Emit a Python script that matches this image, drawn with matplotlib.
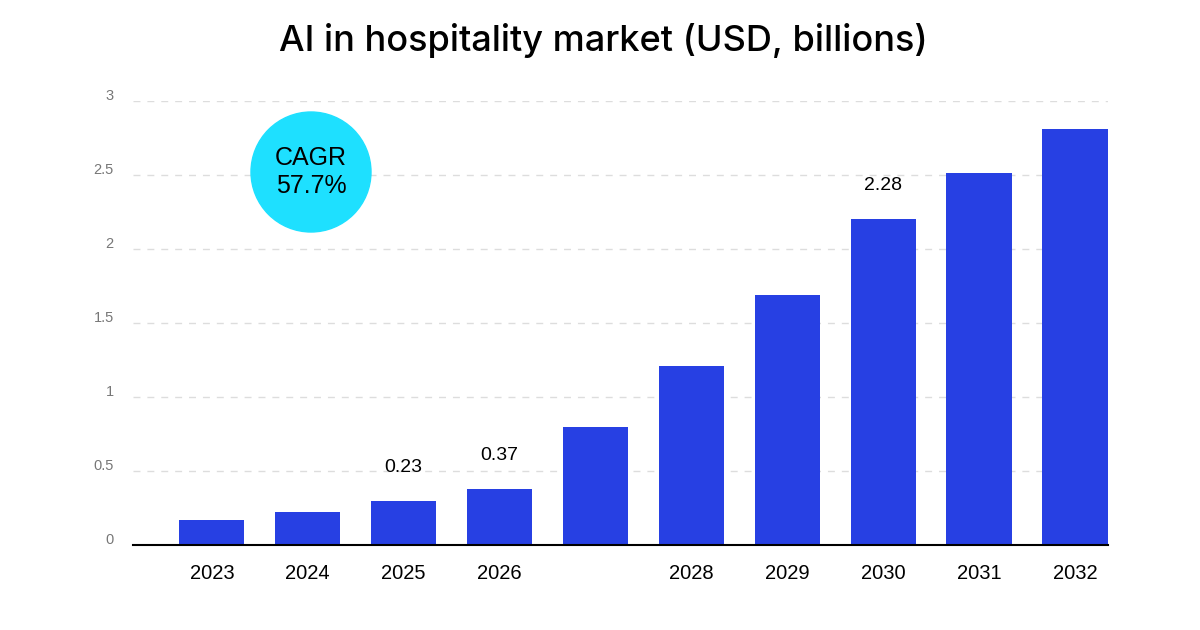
import numpy as np
import matplotlib.pyplot as plt
import matplotlib.transforms as mtransforms
from matplotlib.patches import Ellipse

# data
years = ["2023", "2024", "2025", "2026", "2027", "2028", "2029", "2030", "2031", "2032"]
tick_labels = ["2023", "2024", "2025", "2026", "", "2028", "2029", "2030", "2031", "2032"]
values = [0.17, 0.22, 0.30, 0.38, 0.80, 1.21, 1.69, 2.20, 2.51, 2.81]
shown_labels = {2: "0.23", 3: "0.37", 7: "2.28"}  # labels printed above some bars
y_ticks = [0, 0.5, 1, 1.5, 2, 2.5, 3]
y_tick_labels = ["0", "0.5", "1", "1.5", "2", "2.5", "3"]

plt.rcParams['font.family'] = ['Liberation Sans', 'DejaVu Sans']

fig = plt.figure(figsize=(12, 6.3), dpi=100)
ax = fig.add_axes([0.111, 0.135, 0.812, 0.705])

x = np.arange(len(years))
ax.bar(x, values, width=0.68, color="#2740E3", zorder=3)

for i, txt in shown_labels.items():
    ax.annotate(txt, (x[i], values[i]), xytext=(0, 18), textcoords="offset points",
                ha="center", va="bottom", fontsize=14, color="black")

ax.set_xlim(-0.82, 9.34)
ax.set_ylim(0, 3)
ax.set_xticks(x)
ax.set_xticklabels(tick_labels, fontsize=14.5)
ax.set_yticks(y_ticks)
ax.set_yticklabels(y_tick_labels, fontsize=10.5, color="#777777")
ax.tick_params(axis="x", length=0, pad=14)
ax.tick_params(axis="y", length=0, pad=14)
# y labels sit a little above their gridline
shift = mtransforms.ScaledTranslation(0, 6 / 100, fig.dpi_scale_trans)
for lab in ax.get_yticklabels():
    lab.set_transform(lab.get_transform() + shift)

ax.yaxis.grid(True, linestyle=(0, (5, 5)), color="#dddddd", linewidth=1, zorder=0)
ax.set_axisbelow(True)
for s in ["top", "right", "left"]:
    ax.spines[s].set_visible(False)
ax.spines["bottom"].set_color("black")
ax.spines["bottom"].set_linewidth(1.5)
ax.spines["bottom"].set_zorder(4)

# CAGR bubble
circ = Ellipse((311 / 1200, 1 - 172 / 630), 120 / 1200, 120 / 630,
               transform=fig.transFigure, color="#1EE0FF", zorder=5)
fig.patches.append(circ)
fig.text(311 / 1200, 1 - 172 / 630, "CAGR\n57.7%", ha="center", va="center",
         fontsize=18, linespacing=1.2, color="black", zorder=6)

fig.text(0.503, 1 - 40 / 630, "AI in hospitality market (USD, billions)", ha="center",
         va="center", fontsize=26, fontweight="medium",
         family=["Inter", "DejaVu Sans"], color="black")

fig.savefig("out.png", dpi=100, facecolor="white")
